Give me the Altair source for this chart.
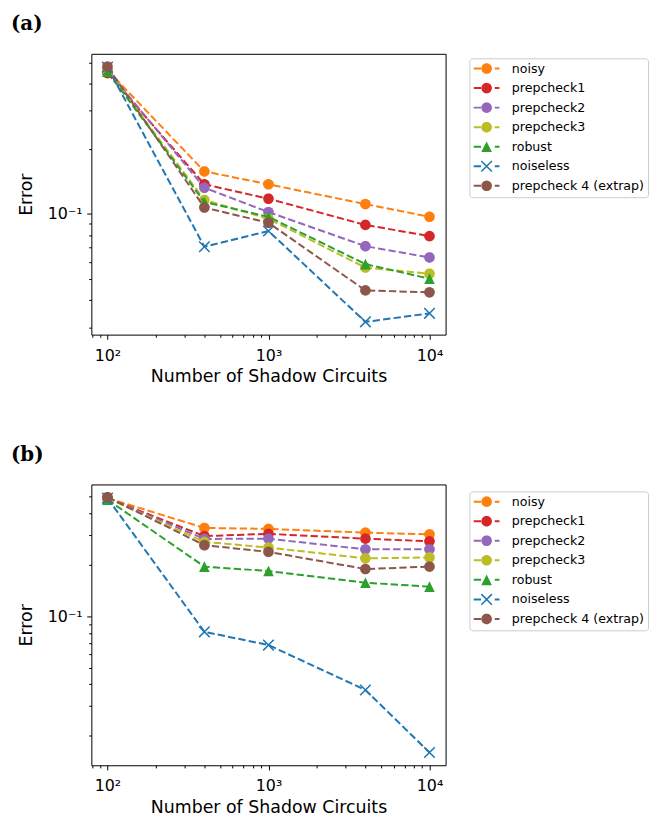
import math
import altair as alt
import pandas as pd

# ---------------- data ----------------
series = ["noisy", "prepcheck1", "prepcheck2", "prepcheck3", "robust",
          "noiseless", "prepcheck 4 (extrap)"]
colors = ["#ff7f0e", "#d62728", "#9467bd", "#bcbd22", "#2ca02c",
          "#1f77b4", "#8c564b"]
marker_kind = ["circle", "circle", "circle", "circle", "triangle", "x", "circle"]
shots = [100, 400, 1000, 4000, 10000]

# panel (a)
noisy_a = [0.460, 0.157, 0.137, 0.111, 0.097]
prep1_a = [0.446, 0.137, 0.1175, 0.089, 0.079]
prep2_a = [0.460, 0.132, 0.102, 0.071, 0.063]
prep3_a = [0.460, 0.116, 0.095, 0.0566, 0.053]
robust_a = [0.453, 0.1135, 0.097, 0.0587, 0.0503]
noiseless_a = [0.475, 0.0706, 0.0834, 0.0318, 0.0348]
prep4_a = [0.478, 0.107, 0.091, 0.0444, 0.0435]

# panel (b)
noisy_b = [0.490, 0.328, 0.324, 0.308, 0.301]
prep1_b = [0.490, 0.294, 0.303, 0.284, 0.274]
prep2_b = [0.490, 0.283, 0.284, 0.246, 0.246]
prep3_b = [0.490, 0.272, 0.252, 0.218, 0.2205]
robust_b = [0.480, 0.195, 0.1837, 0.157, 0.149]
noiseless_b = [0.490, 0.0811, 0.0679, 0.0371, 0.0160]
prep4_b = [0.496, 0.260, 0.2377, 0.1887, 0.195]

panel_a_values = [noisy_a, prep1_a, prep2_a, prep3_a, robust_a, noiseless_a, prep4_a]
panel_b_values = [noisy_b, prep1_b, prep2_b, prep3_b, robust_b, noiseless_b, prep4_b]

x_major = [100, 1000, 10000]
x_major_labels = ["10²", "10³", "10⁴"]
x_minor_all = [20, 30, 40, 50, 60, 70, 80, 90, 200, 300, 400, 500, 600, 700, 800, 900,
               2000, 3000, 4000, 5000, 6000, 7000, 8000, 9000, 20000]
y_major = [0.1]
y_major_labels = ["10⁻¹"]
y_minor_all = [0.01, 0.02, 0.03, 0.04, 0.05, 0.06, 0.07, 0.08, 0.09,
               0.2, 0.3, 0.4, 0.5, 0.6, 0.7, 0.8, 0.9]

# ---------------- marker geometry (style) ----------------
MARK_SIZE = 121  # unit square -> +-5.5 px
R = 0.97


def rect(x0, y0, x1, y1):
    return f"M{x0:.3f},{y0:.3f}L{x1:.3f},{y0:.3f}L{x1:.3f},{y1:.3f}L{x0:.3f},{y1:.3f}Z"


def circle_path(r, n=32):
    pts = [(r * math.cos(2 * math.pi * k / n), r * math.sin(2 * math.pi * k / n)) for k in range(n)]
    return "M" + "L".join(f"{x:.3f},{y:.3f}" for x, y in pts) + "Z"


def x_path(a, t):
    tp = t / math.sqrt(2)
    r1 = [(-a - tp, -a + tp), (a - tp, a + tp), (a + tp, a - tp), (-a + tp, -a - tp)]
    r2 = [(-a + tp, a + tp), (a + tp, -a + tp), (a - tp, -a - tp), (-a - tp, a - tp)]
    out = ""
    for r in (r1, r2):
        out += "M" + "L".join(f"{x:.3f},{y:.3f}" for x, y in r) + "Z"
    return out


MARKER_PATH = {
    "circle": circle_path(R),
    "triangle": f"M0,{-R}L{R},{R}L{-R},{R}Z",
    "x": x_path(R, 0.14),
}
DASHES = rect(-2.36, -0.18, -1.02, 0.18) + rect(1.49, -0.18, 2.36, 0.18)
legend_paths = [MARKER_PATH[k] + DASHES for k in marker_kind]

FONT = "DejaVu Sans"


def label_expr(values, labels):
    expr = "''"
    for v, l in zip(reversed(values), reversed(labels)):
        expr = f"datum.value == {v} ? '{l}' : ({expr})"
    return expr


def make_panel(values, tag, legend_y):
    rows = []
    for s, vals in zip(series, values):
        for n, v in zip(shots, vals):
            rows.append({"shots": n, "error": v, "series": s})
    df = pd.DataFrame(rows)

    # matplotlib-like 5% margins in log space
    lx = [math.log10(v) for v in shots]
    xpad = 0.05 * (max(lx) - min(lx))
    xdom = [10 ** (min(lx) - xpad), 10 ** (max(lx) + xpad)]
    ly = [math.log10(v) for vals in values for v in vals]
    ypad = 0.05 * (max(ly) - min(ly))
    ydom = [10 ** (min(ly) - ypad), 10 ** (max(ly) + ypad)]

    x_minor = [v for v in x_minor_all if xdom[0] <= v <= xdom[1]]
    y_minor = [v for v in y_minor_all if ydom[0] <= v <= ydom[1]]

    xs = alt.Scale(type="log", domain=xdom, nice=False)
    ys = alt.Scale(type="log", domain=ydom, nice=False)
    cs = alt.Scale(domain=series, range=colors)

    common = dict(domain=False, grid=False, tickColor="black", tickWidth=1,
                  labelFont=FONT, labelColor="black", titleFont=FONT,
                  titleColor="black", titleFontWeight="normal")
    x_major_axis = alt.Axis(values=x_major, labelExpr=label_expr(x_major, x_major_labels),
                            orient="bottom", tickSize=4.67, labelFontSize=16,
                            labelPadding=8, labelFlush=False, labelOverlap=False,
                            title="Number of Shadow Circuits", titleFontSize=17.5,
                            titlePadding=5, **common)
    x_minor_axis = alt.Axis(values=x_minor, orient="bottom", tickSize=2.67, labels=False,
                            title=None, **common)
    y_major_axis = alt.Axis(values=y_major, labelExpr=label_expr(y_major, y_major_labels),
                            orient="left", tickSize=4.67, labelFontSize=16,
                            labelPadding=4.6, labelFlush=False, labelOverlap=False,
                            title="Error", titleFontSize=17.5, titlePadding=12, **common)
    y_minor_axis = alt.Axis(values=y_minor, orient="left", tickSize=2.67, labels=False,
                            title=None, **common)

    base = alt.Chart(df)
    layers = []
    for i, (s, kind, col) in enumerate(zip(series, marker_kind, colors)):
        sub = base.transform_filter(alt.datum.series == s)
        line = sub.mark_line(strokeDash=[7.4, 3.2], strokeWidth=2).encode(
            x=alt.X("shots:Q", scale=xs, axis=x_major_axis if i == 0 else None),
            y=alt.Y("error:Q", scale=ys, axis=y_major_axis if i == 0 else None),
            color=alt.value(col),
        )
        pts = sub.mark_point(filled=True, opacity=1, size=MARK_SIZE,
                             shape=MARKER_PATH[kind]).encode(
            x=alt.X("shots:Q", scale=xs, axis=x_minor_axis if i == 0 else None),
            y=alt.Y("error:Q", scale=ys, axis=y_minor_axis if i == 0 else None),
            color=alt.value(col),
        )
        layers += [line, pts]

    leg = alt.Legend(title=None, orient="none", legendX=381, legendY=legend_y,
                     padding=4, strokeColor="#cccccc", fillColor="white",
                     cornerRadius=3, labelFont=FONT, labelFontSize=12.7,
                     labelColor="black", symbolSize=MARK_SIZE, symbolOffset=7,
                     labelOffset=19, rowPadding=5.7, symbolStrokeWidth=0)
    legend_layer = base.transform_filter("false").mark_point(
        filled=True, opacity=1, size=MARK_SIZE).encode(
        x=alt.X("shots:Q", scale=xs, axis=None),
        y=alt.Y("error:Q", scale=ys, axis=None),
        color=alt.Color("series:N", scale=cs, legend=leg),
        shape=alt.Shape("series:N", scale=alt.Scale(domain=series, range=legend_paths),
                        legend=leg),
    )
    layers.append(legend_layer)

    return alt.layer(*layers).resolve_axis(x="independent", y="independent").properties(
        width=357, height=283,
        title=alt.TitleParams(tag, anchor="start", frame="group", dx=-81,
                              font="DejaVu Serif", fontSize=20, fontWeight="bold",
                              color="black", offset=20),
    )


chart = alt.vconcat(
    make_panel(panel_a_values, "(a)", 4.5),
    make_panel(panel_b_values, "(b)", 7),
    spacing=58,
).resolve_scale(
    x="independent", y="independent", color="independent", shape="independent"
).properties(
    padding={"left": 2, "top": 2, "right": 0, "bottom": 0}
).configure_view(stroke="black", strokeWidth=1)

chart.save("out.html", embed_options={"renderer": "svg", "actions": False})
